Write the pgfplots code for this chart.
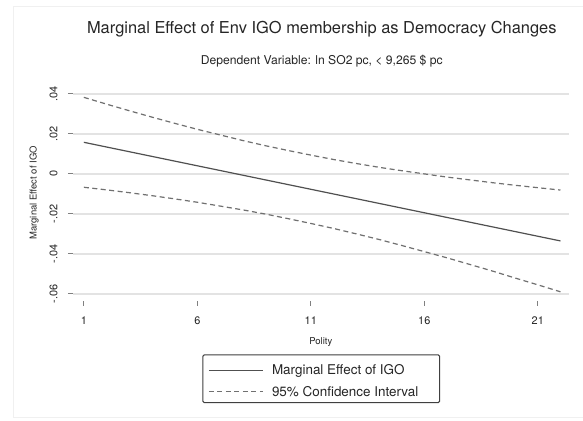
\documentclass[border=0pt]{standalone}
\usepackage{pgfplots}
\pgfplotsset{compat=1.18}
\usepackage{fontspec}
\setmainfont{TeX Gyre Heros}
\definecolor{gridc}{HTML}{E3E3E3}
\definecolor{solidc}{HTML}{505050}
\definecolor{dashc}{HTML}{707070}
\begin{document}
\begin{tikzpicture}
\fill[white] (0bp,0bp) rectangle (583bp,421bp);
\draw[gray!12, line width=0.8bp] (583bp,415bp) -- (13bp,415bp) -- (13bp,3bp) -- (583bp,3bp);
\node[font=\fontsize{16.5}{18}\selectfont, text=black!85] at (322bp,392bp) {Marginal Effect of Env IGO membership as Democracy Changes};
\node[font=\fontsize{12.2}{14}\selectfont, text=black!85] at (322bp,360bp) {Dependent Variable: ln SO2 pc, < 9,265 \$ pc};
\begin{axis}[
  at={(73bp,120bp)}, anchor=south west,
  scale only axis, width=496bp, height=216bp,
  xmin=0.52, xmax=22.36, ymin=-0.0635, ymax=0.0445,
  axis x line*=bottom, axis y line*=left,
  x axis line style={draw opacity=0, -},
  y axis line style={draw opacity=0, -},
  scaled y ticks=false, scaled x ticks=false,
  xtick={1,6,11,16,21},
  ytick={-0.06,-0.04,-0.02,0,0.02,0.04},
  yticklabels={-.06,-.04,-.02,0,.02,.04},
  tick align=outside,
  major tick length=5bp,
  every major tick/.append style={draw=black!50, draw opacity=1, line width=1bp},
  ymajorgrids=true,
  every major grid/.append style={draw=gridc, draw opacity=1, line width=2bp},
  /pgf/number format/assume math mode=true,
  ticklabel style={font=\fontsize{11}{13}\selectfont, text=black!85},
  xticklabel style={yshift=-7bp},
  yticklabel style={rotate=90, anchor=south},
  yticklabel shift=7bp,
  xlabel={Polity}, ylabel={Marginal Effect of IGO},
  label style={font=\fontsize{9.5}{11}\selectfont, text=black!85},
  xlabel style={yshift=-7bp},
  ylabel style={yshift=4bp},
]
\addplot[solidc, line width=1.2bp] coordinates {
(1,0.0158) (2,0.01345) (3,0.0111) (4,0.00875) (5,0.0064) (6,0.00405) (7,0.0017)
(8,-0.00065) (9,-0.0030) (10,-0.00535) (11,-0.0077) (12,-0.01005) (13,-0.0124)
(14,-0.01475) (15,-0.0171) (16,-0.01945) (17,-0.0218) (18,-0.02415) (19,-0.0265)
(20,-0.02885) (21,-0.0312) (22,-0.03355)};
\addplot[dashc, line width=1.2bp, dash pattern=on 5bp off 3.5bp] coordinates {
(1,0.0383) (2,0.0349) (3,0.0316) (4,0.0284) (5,0.0253) (6,0.0223) (7,0.0195)
(8,0.0167) (9,0.0141) (10,0.0117) (11,0.0094) (12,0.0072) (13,0.0052) (14,0.0033)
(15,0.0016) (16,0.0000) (17,-0.0016) (18,-0.0030) (19,-0.0044) (20,-0.0057)
(21,-0.0069) (22,-0.0081)};
\addplot[dashc, line width=1.2bp, dash pattern=on 5bp off 3.5bp] coordinates {
(1,-0.0067) (2,-0.0080) (3,-0.0094) (4,-0.0109) (5,-0.0125) (6,-0.0142) (7,-0.0161)
(8,-0.0180) (9,-0.0201) (10,-0.0224) (11,-0.0248) (12,-0.0273) (13,-0.0300)
(14,-0.0328) (15,-0.0358) (16,-0.0389) (17,-0.0420) (18,-0.0453) (19,-0.0486)
(20,-0.0521) (21,-0.0555) (22,-0.0590)};
\end{axis}
% legend
\draw[black!75, line width=1bp, rounded corners=1.5bp] (203bp,18bp) rectangle (440bp,66bp);
\draw[solidc, line width=1.2bp] (209bp,50bp) -- (263bp,50bp);
\draw[dashc, line width=1.2bp, dash pattern=on 5bp off 3.5bp] (209bp,29bp) -- (263bp,29bp);
\node[anchor=west, inner sep=0pt, font=\fontsize{13.5}{15}\selectfont, text=black!85] at (272bp,50bp) {Marginal Effect of IGO};
\node[anchor=west, inner sep=0pt, font=\fontsize{13.5}{15}\selectfont, text=black!85] at (272bp,29bp) {95\% Confidence Interval};
\end{tikzpicture}
\end{document}
